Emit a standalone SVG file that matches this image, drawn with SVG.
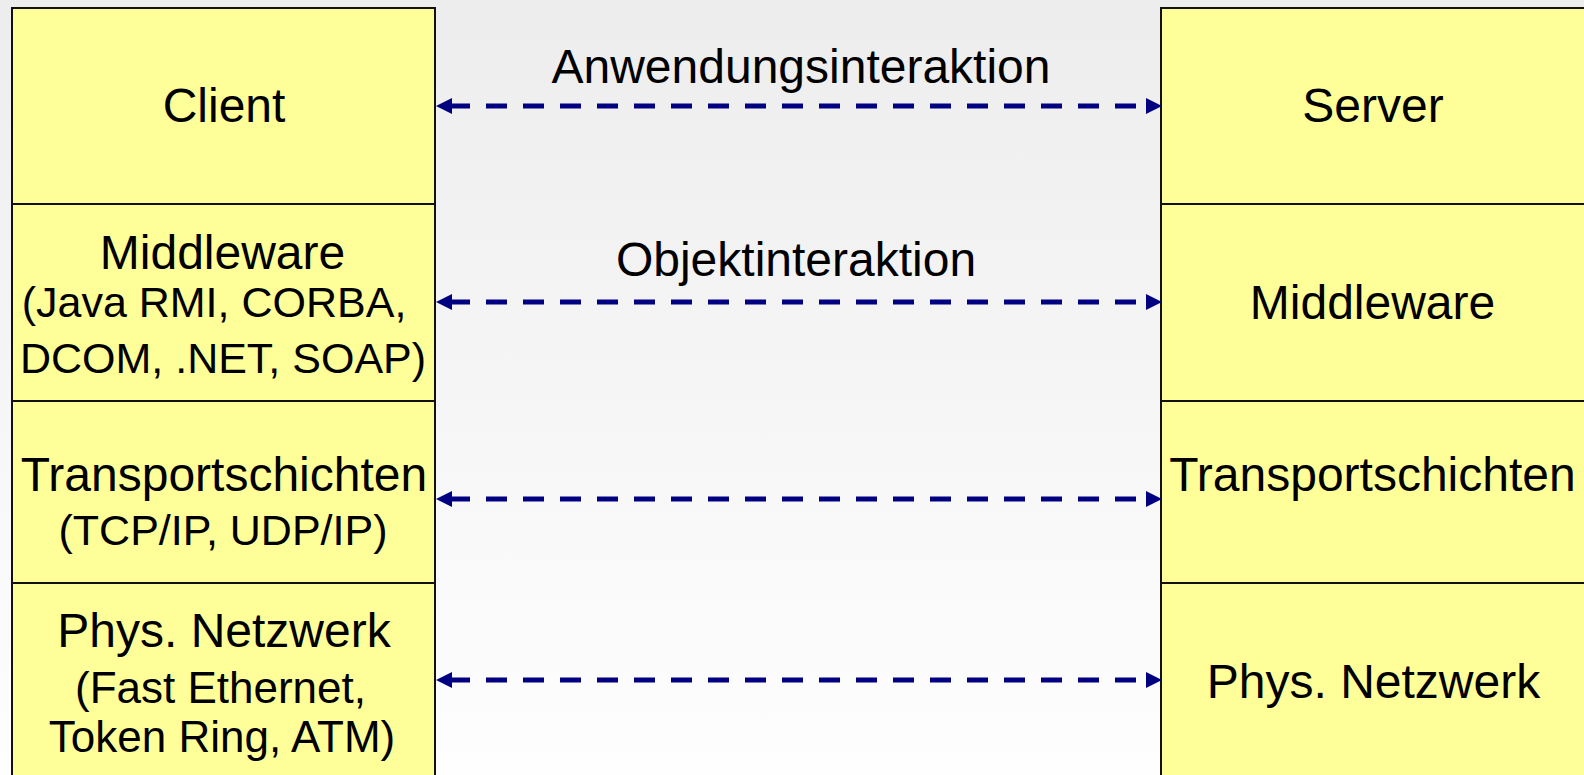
<svg xmlns="http://www.w3.org/2000/svg" width="1584" height="775" viewBox="0 0 1584 775">
  <defs>
    <linearGradient id="bg" x1="0" y1="0" x2="0" y2="1">
      <stop offset="0" stop-color="#ededed"/>
      <stop offset="1" stop-color="#fefefe"/>
    </linearGradient>
    <marker id="ah" markerUnits="userSpaceOnUse" markerWidth="16" markerHeight="16" viewBox="0 0 16 16" refX="0" refY="8" orient="auto-start-reverse">
      <path d="M0,0 L16,8 L0,16 z" fill="#000080"/>
    </marker>
  </defs>
  <style>
    .box { fill: #ffff99; stroke: #111; stroke-width: 2; }
    .div { stroke: #111; stroke-width: 2; }
    .t { font-family: "Liberation Sans", Arial, sans-serif; fill: #000; text-anchor: middle; }
    .big { font-size: 48px; }
    .small { font-size: 43px; }
    .small2 { font-size: 44px; }
    .conn { stroke: #000080; stroke-width: 5; stroke-dasharray: 21 16; stroke-dashoffset: 3; fill: none; marker-start: url(#ah); marker-end: url(#ah); }
  </style>
  <rect x="0" y="0" width="1584" height="775" fill="url(#bg)"/>

  <g id="client-stack">
    <rect class="box" x="12" y="8" width="423" height="790"/>
    <line class="div" x1="12" y1="204" x2="435" y2="204"/>
    <line class="div" x1="12" y1="401" x2="435" y2="401"/>
    <line class="div" x1="12" y1="583" x2="435" y2="583"/>
  </g>
  <g id="client">
    <text class="t big" x="224" y="122">Client</text>
  </g>
  <g id="client-middleware">
    <text class="t big" x="222.5" y="269">Middleware</text>
    <text class="t small" x="214" y="317">(Java RMI, CORBA,</text>
    <text class="t small" x="223" y="373">DCOM, .NET, SOAP)</text>
  </g>
  <g id="client-transport">
    <text class="t big" x="224" y="491">Transportschichten</text>
    <text class="t small" x="223" y="545">(TCP/IP, UDP/IP)</text>
  </g>
  <g id="client-network">
    <text class="t big" x="224" y="647">Phys. Netzwerk</text>
    <text class="t small2" x="220.5" y="703">(Fast Ethernet,</text>
    <text class="t small2" x="222" y="752">Token Ring, ATM)</text>
  </g>

  <g id="server-stack">
    <rect class="box" x="1161" y="8" width="440" height="790"/>
    <line class="div" x1="1161" y1="204" x2="1600" y2="204"/>
    <line class="div" x1="1161" y1="401" x2="1600" y2="401"/>
    <line class="div" x1="1161" y1="583" x2="1600" y2="583"/>
  </g>
  <g id="server">
    <text class="t big" x="1373" y="122">Server</text>
  </g>
  <g id="server-middleware">
    <text class="t big" x="1372.5" y="319">Middleware</text>
  </g>
  <g id="server-transport">
    <text class="t big" x="1372.5" y="491">Transportschichten</text>
  </g>
  <g id="server-network">
    <text class="t big" x="1373.5" y="698">Phys. Netzwerk</text>
  </g>

  <g id="connectors">
    <line class="conn" x1="452" y1="106" x2="1146" y2="106"/>
    <line class="conn" x1="452" y1="302" x2="1146" y2="302"/>
    <line class="conn" x1="452" y1="499" x2="1146" y2="499"/>
    <line class="conn" x1="452" y1="680" x2="1146" y2="680"/>
    <text class="t big" x="801" y="83">Anwendungsinteraktion</text>
    <text class="t big" x="796" y="276">Objektinteraktion</text>
  </g>
</svg>
